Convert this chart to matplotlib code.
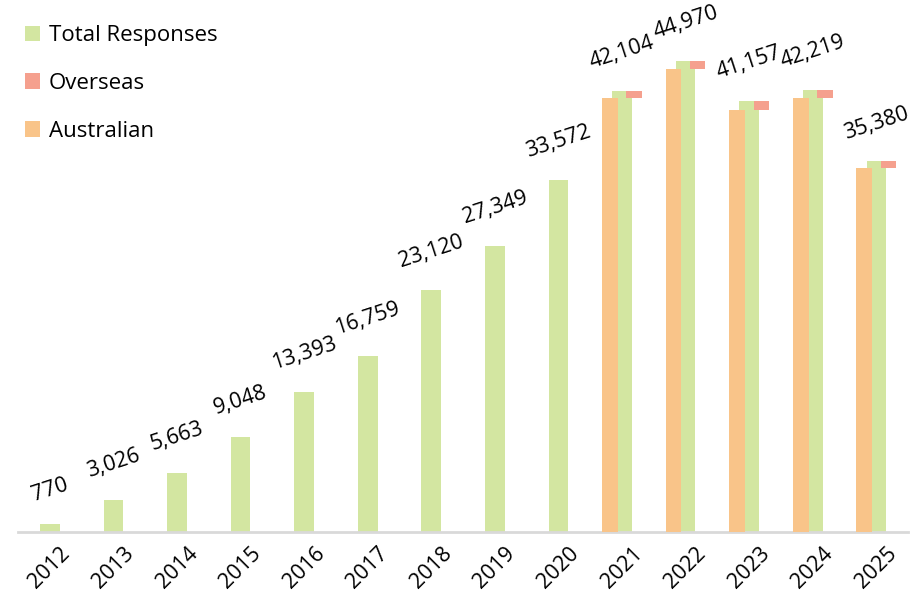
import matplotlib
matplotlib.use('Agg')
import matplotlib.pyplot as plt
import numpy as np

years = ['2012', '2013', '2014', '2015', '2016', '2017', '2018',
         '2019', '2020', '2021', '2022', '2023', '2024', '2025']
total = [770, 3026, 5663, 9048, 13393, 16759, 23120,
         27349, 33572, 42104, 44970, 41157, 42219, 35380]
# split only reported from 2021 on
australian = [0, 0, 0, 0, 0, 0, 0, 0, 0, 41400, 44180, 40330, 41460, 34720]
overseas = [0, 0, 0, 0, 0, 0, 0, 0, 0, 704, 790, 827, 759, 660]

plt.rcParams['font.family'] = ['Open Sans', 'DejaVu Sans']

fig = plt.figure(figsize=(9.22, 6.07), dpi=100)
ax = fig.add_axes([0.0195, 0.1236, 0.9655, 0.8764])

x = np.arange(len(years))
green = '#D3E6A1'
orange = '#F9C489'
salmon = '#F5A08E'

ax.bar(x, total, width=0.31, color=green, label='Total Responses', zorder=2)
ax.bar(x + 0.19, overseas, width=0.24, bottom=australian, color=salmon,
       label='Overseas', zorder=4)
ax.bar(x - 0.19, australian, width=0.25, color=orange, label='Australian', zorder=3)

for xi, t in zip(x, total):
    ax.annotate(f'{t:,}', (xi, t), xytext=(0, 13), textcoords='offset points',
                ha='center', va='bottom', rotation=18, fontsize=15.5, color='black')

ax.set_xlim(-0.5, len(years) - 0.5)
ax.set_ylim(0, 50800)
ax.set_xticks(x)
ax.set_xticklabels(years, rotation=45, fontsize=15.5)
ax.tick_params(axis='x', length=0, pad=8)
ax.set_yticks([])
for s in ['top', 'right', 'left']:
    ax.spines[s].set_visible(False)
ax.spines['bottom'].set_color('#d9d9d9')
ax.spines['bottom'].set_linewidth(2)

ax.legend(loc='upper left', bbox_to_anchor=(0.0, 0.965), frameon=False, fontsize=16,
          handlelength=0.7, handleheight=0.7, handletextpad=0.4, labelspacing=1.2,
          borderaxespad=0.0, borderpad=0.3)

fig.savefig('out.png', dpi=100)
